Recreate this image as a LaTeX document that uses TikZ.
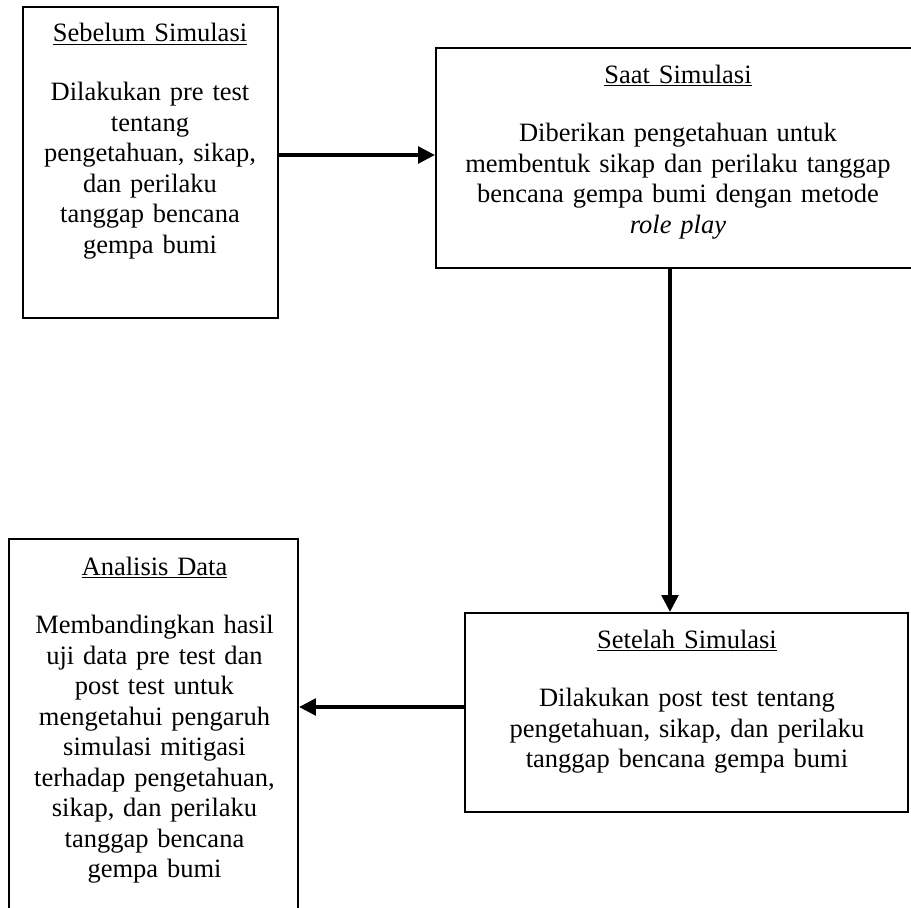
\documentclass[tikz,border=0pt]{standalone}
\usepackage{fontspec}
\setmainfont{Liberation Serif}
\usetikzlibrary{positioning, arrows.meta}

\tikzset{
    kotak/.style={draw, line width=1.6pt, inner sep=0pt},
    isi/.style={anchor=base, align=center, text width=11cm, inner sep=0pt,
        font=\fontsize{18.85}{21.7}\selectfont},
    panah/.style={line width=2.2pt, -{Triangle[length=0.42cm, width=0.42cm]}}
}

\begin{document}
\begin{tikzpicture}
    \useasboundingbox (0,0) rectangle (22.775,-22.7);

    % Kotak Sebelum Simulasi
    \node[kotak, minimum width=6.375cm, minimum height=7.775cm] (sebelum) at (3.7625,-4.0625) {};
    \node[isi] (tsebelum) at (3.75,-1.05) {\underline{Sebelum Simulasi}\\[20pt]
        Dilakukan pre test\\ tentang\\ pengetahuan, sikap,\\ dan perilaku\\
        tanggap bencana\\ gempa bumi};

    % Kotak Saat Simulasi
    \node[kotak, minimum width=12.1cm, minimum height=5.5cm] (saat) at (16.95,-3.95) {};
    \node[isi] (tsaat) at (16.95,-2.0825) {\underline{Saat Simulasi}\\[20pt]
        Diberikan pengetahuan untuk\\ membentuk sikap dan perilaku tanggap\\
        bencana gempa bumi dengan metode\\ \textit{role play}};

    % Kotak Setelah Simulasi
    \node[kotak, minimum width=11.075cm, minimum height=4.975cm] (setelah) at (17.1625,-17.8125) {};
    \node[isi] (tsetelah) at (17.175,-16.2) {\underline{Setelah Simulasi}\\[20pt]
        Dilakukan post test tentang\\ pengetahuan, sikap, dan perilaku\\
        tanggap bencana gempa bumi};

    % Kotak Analisis Data
    \node[kotak, minimum width=7.225cm, minimum height=9.775cm] (analisis) at (3.8375,-18.3625) {};
    \node[isi] (tanalisis) at (3.8625,-14.375) {\underline{Analisis Data}\\[20pt]
        Membandingkan hasil\\ uji data pre test dan\\ post test untuk\\
        mengetahui pengaruh\\ simulasi mitigasi\\ terhadap pengetahuan,\\
        sikap, dan perilaku\\ tanggap bencana\\ gempa bumi};

    % Panah
    \coordinate (jalur1) at (0,-3.875);
    \coordinate (jalur2) at (16.75,0);
    \coordinate (jalur3) at (0,-17.675);
    \draw[panah] (sebelum.east |- jalur1) -- (saat.west |- jalur1);
    \draw[panah] (saat.south -| jalur2) -- (setelah.north -| jalur2);
    \draw[panah] (setelah.west |- jalur3) -- (analisis.east |- jalur3);
\end{tikzpicture}
\end{document}
